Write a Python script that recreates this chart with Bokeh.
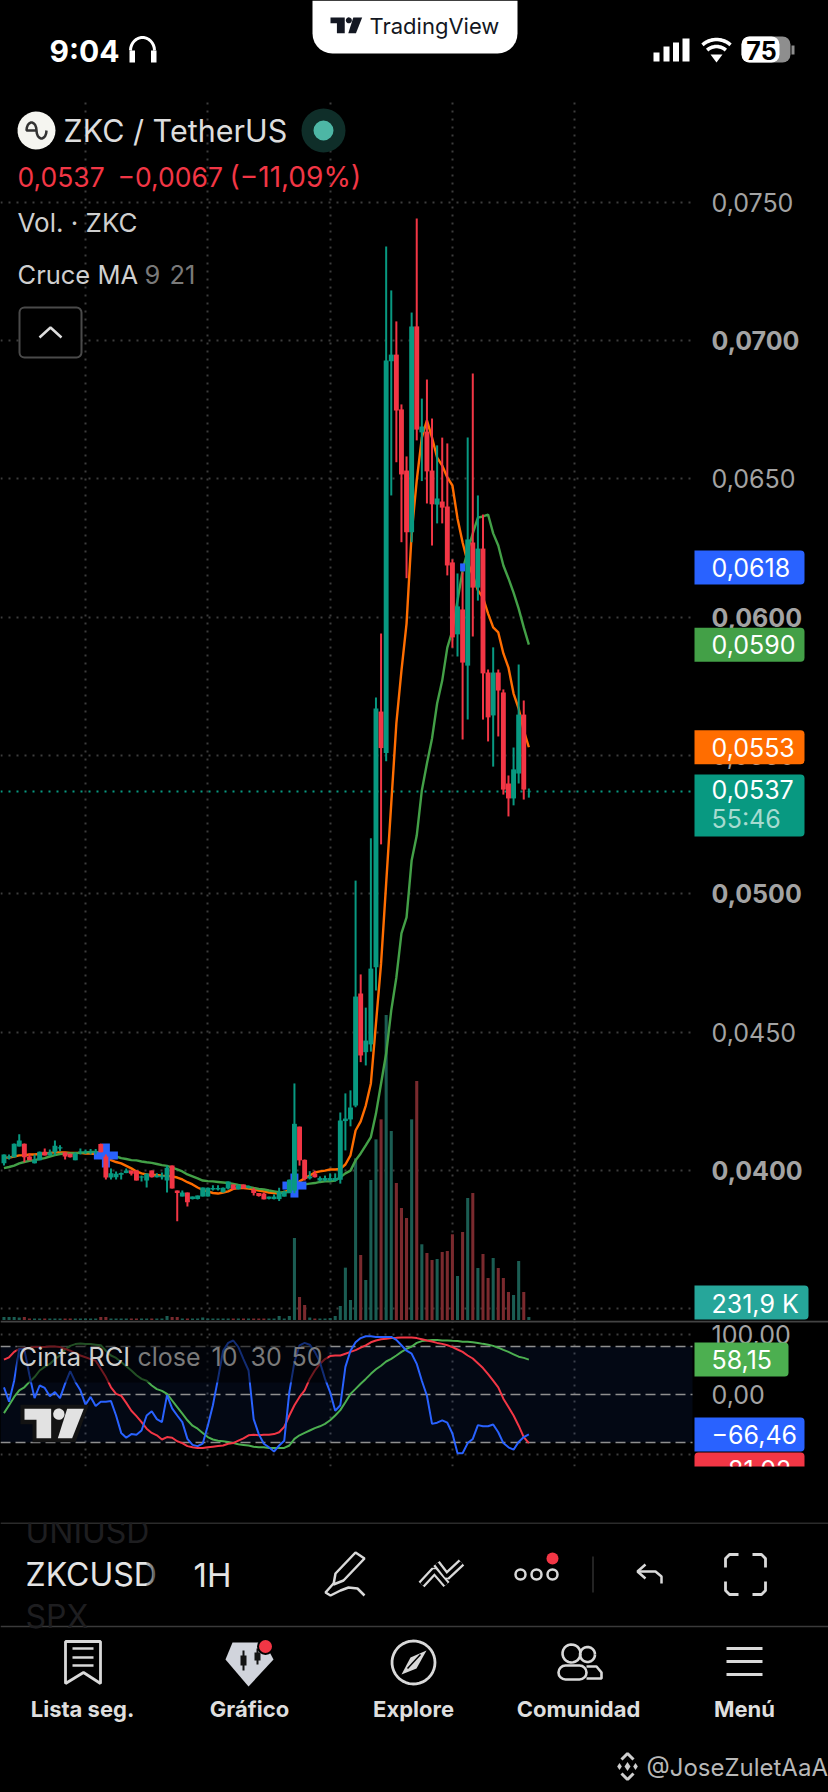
import numpy as np
from bokeh.core.properties import value
from bokeh.embed import file_html
from bokeh.layouts import column
from bokeh.models import (ColumnDataSource, CustomJSTickFormatter, FixedTicker, GlobalInlineStyleSheet,
                          Grid, LinearAxis, Range1d)
from bokeh.plotting import figure
from bokeh.resources import INLINE

# ---------- data (prices in units of 0.00001) ----------
hours = list(range(-16, 88))
opens = [4027,4045,4048,4087,4097,4051,4027,4037,4068,4055,4066,4080,4066,4061,4037,4066,
         4066,4066,4066,4096,4051,3975,3976,3985,3991,4000,4000,3975,3964,4000,3976,3976,3964,4018,3928,3906,3921,3897,3897,3906,3906,3932,3932,3922,3935,3950,3933,3950,3938,3931,3919,3917,3898,3897,3897,3906,3919,3928,4159,4039,3972,3989,3964,3964,3964,3964,
         3967,4179,4185,4235,4640,4428,4456,4735,5659,5509,6925,6949,6751,6530,6307,7051,6668,6671,6530,6407,6418,6400,6198,5938,6028,5825,6270,6107,6248,5800,5645,5800,5728,5399,5345,5435,5648,5370]
closes = [4058,4051,4097,4109,4048,4037,4037,4068,4055,4066,4090,4084,4051,4048,4061,4069,
          4069,4069,4069,4066,3975,3990,3989,3991,4000,3989,3964,3979,3989,3976,3982,3982,4010,3935,3919,3921,3886,3906,3910,3939,3938,3937,3937,3938,3961,3933,3946,3936,3943,3919,3908,3896,3906,3906,3922,3922,3967,4169,4037,3970,3979,3976,3973,3973,3973,3973,
          4181,4188,4228,4629,4416,4470,4730,5670,5527,6928,6949,6747,6516,6307,7051,6678,6689,6527,6408,6429,6396,6187,5927,6039,5836,6281,6107,6248,5797,5638,5800,5735,5377,5345,5450,5648,5377,5371]
highs = [4058,4058,4098,4131,4098,4062,4058,4069,4080,4076,4109,4092,4066,4062,4066,4080,
         4076,4078,4078,4098,4058,4008,3997,3993,4008,4000,4000,3982,3990,4000,3990,3993,4018,4018,3928,3928,3921,3906,3910,3939,3939,3947,3947,3939,3961,3950,3950,3950,3946,3938,3919,3921,3906,3914,3938,3928,3968,4315,4159,4040,3998,4000,3979,3982,3990,3990,
         4210,4279,4290,5048,4709,4589,5201,5710,5941,7340,7181,7069,6769,6581,7101,7441,6790,6859,6718,6621,6649,6628,6209,6158,6162,6649,6881,6440,6371,5811,5891,5811,5739,5428,5529,5829,5699,5381]
lows = [4018,4040,4047,4087,4030,4037,4026,4037,4055,4055,4055,4070,4040,4047,4037,4058,
        4060,4058,4058,4066,3968,3968,3968,3968,3990,3982,3964,3961,3939,3975,3975,3968,3921,3935,3817,3906,3870,3896,3896,3906,3906,3928,3928,3921,3932,3932,3932,3935,3935,3910,3906,3896,3896,3896,3890,3906,3918,3918,4018,3964,3968,3975,3961,3961,3961,3961,
        3953,4073,4160,4229,4392,4380,4430,4651,5179,5479,6440,6560,6271,6141,6271,6639,6492,6411,6259,6339,6339,6151,5890,5858,5558,5630,5930,6060,5630,5551,5460,5569,5359,5280,5320,5399,5341,5348]
ma9 = [4047,4047,4051,4055,4056,4058,4058,4060,4062,4064,4066,4066,4066,4064,4064,4064,
       4062,4062,4060,4058,4047,4038,4031,4026,4017,4008,3997,3990,3986,3984,3984,3982,3981,3979,3975,3968,3958,3950,3939,3930,3925,3919,3917,3921,3925,3934,3937,3937,3935,3932,3928,3925,3921,3919,3917,3923,3928,3946,3961,3972,3982,3993,3997,4000,4004,4004,
       4006,4022,4055,4145,4178,4235,4315,4532,4748,5038,5327,5616,5807,5977,6302,6494,6649,6711,6649,6577,6548,6505,6476,6357,6270,6198,6151,6097,6071,6013,5963,5945,5869,5818,5724,5670,5591,5530]
ma21 = [4009,4013,4018,4026,4031,4035,4038,4042,4045,4051,4056,4060,4062,4062,4063,4064,
        4066,4067,4067,4066,4062,4056,4051,4045,4042,4038,4037,4033,4030,4028,4024,4020,4017,4011,4004,3997,3986,3979,3972,3964,3962,3961,3959,3957,3955,3952,3948,3945,3941,3937,3934,3932,3928,3925,3922,3921,3923,3939,3946,3950,3953,3955,3959,3961,3961,3964,
        3976,3990,4000,4037,4062,4091,4121,4206,4315,4423,4579,4698,4857,4915,5121,5211,5374,5471,5562,5688,5771,5890,5952,6060,6169,6241,6303,6360,6364,6371,6303,6259,6187,6140,6089,6031,5963,5901]
volume_k = [230,230,230,190,230,115,115,115,115,115,115,115,115,115,115,115,
            115,115,115,230,230,115,115,115,115,115,115,115,115,115,115,115,310,230,230,115,115,115,115,190,115,115,115,115,115,115,115,115,115,115,115,115,115,115,310,115,310,6314,1771,1155,190,115,115,115,150,308,
            1078,4030,1540,12450,5005,3080,10780,13910,15450,23485,14553,10549,8624,7854,15450,18403,5830,5159,4620,4697,5236,5313,6600,3388,6776,9394,9779,4004,5082,3234,4774,4004,3234,2156,1925,4543,2156,232]
rci10 = [12,-12,23,76,75,32,-6,15,11,-3,4,-6,18,39,21,7,
         -17,-4,-19,-12,-12,-11,-35,-64,-72,-66,-67,-60,-35,-28,-41,-46,-1,-23,-35,-46,-74,-84,-86,-82,-52,-18,26,73,86,90,79,59,40,-41,-66,-82,-88,-95,-85,-77,4,54,82,86,83,71,54,26,4,-27,
         -18,46,73,87,94,97,97,96,96,96,96,91,82,73,68,51,23,-2,-49,-47,-43,-47,-65,-98,-98,-81,-74,-51,-53,-53,-50,-63,-81,-88,-92,-79,-71,-66.46]
rci30 = [58,62,71,76,77,78,79,79,79,80,80,79,76,73,69,65,
         62,59,56,43,29,12,1,-2,-14,-27,-36,-46,-57,-64,-68,-75,-71,-72,-78,-81,-86,-88,-89,-89,-88,-87,-86,-85,-82,-81,-77,-73,-68,-67,-68,-67,-67,-66,-63,-54,-35,-18,-4,7,26,40,51,59,64,65,
         65,68,71,74,78,82,87,90,92,93,94,94.4,95,95,95,94,92,90,88.3,86,84.4,82,79,75,71,65,60,52,44,34,23,12,-7,-21,-35,-52,-71,-81.02]
rci50 = [-31,-18,-4,7,12,21,29,40,46,51,59,65,75,81,84,85,
         84,84,83,82,73,65,61,54,47,40,32,26,23,15,9,6,1,-10,-21,-32,-43,-52,-57,-64,-71,-75,-77,-78,-79,-81,-83,-84,-85,-87,-88,-88,-89,-89,-89,-89,-85,-74,-68,-64,-60,-56,-53,-49,-43,-35,
         -26,-13,1,9.4,18,26,34.4,42,48,55,59.4,65,71,76,80,86,89,90,91,91,90,90,89.4,89,88,88,87,86,84.4,83,81,78,74.4,71,67,63,61,58.15]
cross_hours = [4, 41]
cross_prices = [0.04055, 0.03946]
signal_hours = [74]
signal_prices = [0.0618]
price_ticks_bold = [0.04, 0.05, 0.06, 0.07]
price_ticks_plain = [0.045, 0.055, 0.065, 0.075]
price_grid = [0.035, 0.04, 0.045, 0.05, 0.055, 0.06, 0.065, 0.07, 0.075]
day_ticks = [0, 24, 48, 72]
day_labels = ["28", "29", "30", "31"]
month_tick = [96]
month_label = ["Sep"]
rci_ticks = [100, 0]
rci_levels = [80, 0, -80]
price_tags = [(0.0618, "0,0618", "#2962FF"), (0.0590, "0,0590", "#43A047"), (0.0553, "0,0553", "#FF6D00")]
last_price = 0.0537
last_volume_label = "231,9 K"
rci_tags = [(58.15, "58,15", "#4CAF50", 788), (-66.46, "−66,46", "#2962FF", 804)]
nav_labels = ["Lista seg.", "Gráfico", "Explore", "Comunidad", "Menú"]

# ---------- geometry ----------
PX_PER_HOUR = 5.096
PX_PER_PRICE = 27670.0
PX_PER_RCI = 0.6
FONT = "Inter"
AXIS_PX = 25
UP, DOWN = "#089981", "#F23645"
BG = "#000000"

def x_at(px):
    return (px - 85) / PX_PER_HOUR

def price_at(py):
    return 0.07 - (py - 340) / PX_PER_PRICE

def rci_at(py):
    return (1394 - py) / PX_PER_RCI

def vol_at(py):
    return (1319.5 - py) * 77.0

def pts(a, k=1e-5):
    return [v * k for v in a]

def base(h, xr, yr, **kw):
    f = figure(width=828, height=h, x_range=xr, y_range=yr, toolbar_location=None, output_backend="svg",
               x_axis_location=None, y_axis_location=None, background_fill_color=BG, border_fill_color=BG,
               min_border=0, outline_line_color=None, **kw)
    f.grid.visible = False
    return f

def T(f, x, y, s, size, color, bold=False, align="left", **kw):
    f.text(x=[x], y=[y], text=[s], text_font=value(FONT), text_font_size=f"{size}px", text_color=color,
           text_align=align, text_baseline="middle", text_font_style="bold" if bold else "normal", **kw)

def arc(cx, cy, rx, ry, a0, a1, n=16):
    t = np.radians(np.linspace(a0, a1, n))
    return list(cx + rx * np.cos(t)), list(cy - ry * np.sin(t))

def tv_logo(f, X, Y, color, **kw):
    f.patch(X([72, 152, 152, 108, 108, 72]), Y([250, 250, 338, 338, 283, 283]), fill_color=color, line_color=None, **kw)
    f.patch(X([200, 250, 215, 172]), Y([250, 250, 338, 338]), fill_color=color, line_color=None, **kw)
    a, b = arc(175, 266, 17, 17, 0, 360, 24)
    f.patch(X(a), Y(b), fill_color=color, line_color=None, **kw)

def dotted_grid(f, dim, ticks):
    f.add_layout(Grid(dimension=dim, ticker=FixedTicker(ticks=ticks), grid_line_color="#3d3d3d",
                      grid_line_width=2, grid_line_dash="2 6", level="underlay"))

def value_axis(f, ticks, bold, digits, loc):
    ax = LinearAxis(ticker=FixedTicker(ticks=ticks), fixed_location=loc,
                    formatter=CustomJSTickFormatter(code=f"return tick.toFixed({digits}).replace('.', ',')"),
                    axis_line_color=None, major_tick_line_color=None, minor_tick_line_color=None,
                    major_tick_in=0, major_tick_out=0, major_label_standoff=0,
                    major_label_text_font=FONT, major_label_text_font_size=f"{AXIS_PX}px",
                    major_label_text_color="#a3a3a3", major_label_text_font_style="bold" if bold else "normal")
    f.add_layout(ax, "right")

PXR = dict(x_range_name="px", y_range_name="py")
shared_x = Range1d(x_at(0), x_at(828))

# ---------- header ----------
head = base(96, Range1d(0, 828), Range1d(96, 0))
lx, ly = arc(332, 33, 20, 20, 180, 270, 8)
rx_, ry_ = arc(497, 33, 20, 20, 270, 360, 8)
head.patch([312] + lx + rx_ + [517], [0] + ly + ry_ + [0], fill_color="#ffffff", line_color=None)
tv_logo(head, lambda a: [330 + (v - 72) * 0.178 for v in a], lambda a: [17 + (v - 250) * 0.178 for v in a], "#131722")
T(head, 369, 25, "TradingView", 22, "#131722")
T(head, 49, 50, "9:04", 30, "#ffffff", bold=True)
hx, hy = arc(142, 50, 12, 13, 180, 0)
head.line(hx, hy, line_color="#ffffff", line_width=3)
head.quad(left=[129, 150.5], right=[134.5, 156], top=[50, 50], bottom=[62, 62], fill_color="#ffffff", line_color=None)
head.quad(left=[653, 663, 672.5, 682], right=[659, 669, 678.5, 689], top=[52, 46, 42, 38], bottom=[61, 61, 61, 61],
          fill_color="#ffffff", line_color=None)
for r in (21, 14):
    ax_, ay_ = arc(716, 60, r, r, 48, 132)
    head.line(ax_, ay_, line_color="#ffffff", line_width=3.6)
head.patch([716, 710, 722], [62, 54, 54], fill_color="#ffffff", line_color=None)
head.quad(left=[741], right=[790], top=[36], bottom=[62], fill_color="#8e8e8e", line_color=None, border_radius=8)
head.quad(left=[741], right=[779], top=[36], bottom=[62], fill_color="#ffffff", line_color=None, border_radius=8)
head.quad(left=[791], right=[794], top=[45], bottom=[54], fill_color="#8e8e8e", line_color=None)
T(head, 761, 50, "75", 25, "#000000", bold=True, align="center")

# ---------- main price pane ----------
main = base(1224, shared_x, Range1d(price_at(1320), price_at(96)))
main.extra_x_ranges["px"] = Range1d(0, 828)
main.extra_y_ranges["py"] = Range1d(1320, 96)
main.extra_y_ranges["vol"] = Range1d(vol_at(1320), vol_at(96))
dotted_grid(main, 1, price_grid)
dotted_grid(main, 0, day_ticks + month_tick)
main.segment(x0=[0], x1=[692], y0=[last_price], y1=[last_price], x_range_name="px", line_color=UP, line_width=2, line_dash="2 6")
main.quad(left=[693], right=[828], bottom=[1320], top=[96], fill_color=BG, line_color=None, **PXR)

colors = [UP if c >= o else DOWN for o, c in zip(opens, closes)]
vol_colors = ["#1B5D53" if c == UP else "#7A2A2E" for c in colors]
main.vbar(x=hours, top=volume_k, bottom=0, width=0.6, fill_color=vol_colors, line_color=None, y_range_name="vol")
main.line(hours, pts(ma9), line_color="#FF6D00", line_width=2.4)
main.line(hours, pts(ma21), line_color="#43A047", line_width=2.4)
for w, h_ in ((24, 8), (8, 24)):
    main.rect(x=cross_hours, y=cross_prices, width=w, height=h_, width_units="screen", height_units="screen",
              fill_color="#2962FF", line_color=None)
main.rect(x=signal_hours, y=signal_prices, width=5, height=8, width_units="screen", height_units="screen",
          fill_color="#2962FF", line_color=None)
candles = ColumnDataSource(dict(h=hours, o=pts(opens), c=pts(closes), hi=pts(highs), lo=pts(lows), col=colors,
                                top=pts([max(a, b) for a, b in zip(opens, closes)]),
                                bot=pts([min(a, b) for a, b in zip(opens, closes)])))
main.segment(x0="h", x1="h", y0="lo", y1="hi", line_color="col", line_width=2, source=candles)
main.vbar(x="h", top="top", bottom="bot", width=0.96, fill_color="col", line_color=None, source=candles)

value_axis(main, price_ticks_plain, False, 4, x_at(711))
value_axis(main, price_ticks_bold, True, 4, x_at(711))

half = 17 / PX_PER_PRICE
for val, lab, col in price_tags:
    main.quad(left=[694], right=[804], bottom=[val - half], top=[val + half], x_range_name="px", fill_color=col,
              line_color=None, border_radius=(0, 4, 4, 0), level="overlay")
    T(main, 711, val, lab, AXIS_PX, "#ffffff", x_range_name="px", level="overlay")
main.quad(left=[694], right=[804], bottom=[836], top=[774], fill_color=UP, line_color=None,
          border_radius=(0, 4, 4, 0), level="overlay", **PXR)
T(main, 711, 789, "0,0537", AXIS_PX, "#ffffff", level="overlay", **PXR)
T(main, 711, 818, "55:46", AXIS_PX, "#A6DBD0", level="overlay", **PXR)
main.quad(left=[694], right=[808], bottom=[1319], top=[1285], fill_color="#26A69A", line_color=None,
          border_radius=(0, 4, 4, 0), level="overlay", **PXR)
T(main, 711, 1303, last_volume_label, AXIS_PX, "#ffffff", level="overlay", **PXR)

cx, cy = arc(36, 130, 19, 19, 0, 360, 32)
main.patch(cx, cy, fill_color="#F5F5F0", line_color=None, **PXR)
sq_x, sq_y = arc(31, 130, 5, 8, 0, 180, 10)
sq2_x, sq2_y = arc(41, 130, 5, 8, 180, 360, 10)
main.line(sq_x + sq2_x, sq_y + sq2_y, line_color="#333333", line_width=2.5, **PXR)
T(main, 63, 130, "ZKC / TetherUS", 30.5, "#dddddd", **PXR)
main.scatter([323], [130], size=44, marker="circle", fill_color="#0F2E29", line_color=None, **PXR)
main.scatter([323], [130], size=20, marker="circle", fill_color="#4DB6A5", line_color=None, **PXR)
T(main, 17, 176, "0,0537", 26.5, DOWN, **PXR)
T(main, 117, 176, "−0,0067", 26.5, DOWN, **PXR)
T(main, 229, 176, "(−11,09%)", 28, DOWN, **PXR)
T(main, 17, 222, "Vol. · ZKC", 26, "#cfcfcf", **PXR)
T(main, 17, 274, "Cruce MA", 25.5, "#cfcfcf", **PXR)
T(main, 144, 274, "9", 25.5, "#7a7a7a", **PXR)
T(main, 169, 274, "21", 25.5, "#7a7a7a", **PXR)
main.quad(left=[19], right=[81], bottom=[357], top=[307], fill_color=BG, line_color="#4a4a4a", line_width=2,
          border_radius=5, **PXR)
main.line([39, 50, 61], [337, 327, 337], line_color="#dddddd", line_width=2.5, **PXR)

# ---------- RCI pane ----------
rci = base(202, shared_x, Range1d(rci_at(1466), rci_at(1320)))
rci.min_border_bottom = 56
rci.extra_x_ranges["px"] = Range1d(0, 828)
rci.extra_y_ranges["py"] = Range1d(1466, 1320)
dotted_grid(rci, 1, [100, -100])
dotted_grid(rci, 0, day_ticks + month_tick)
rci.quad(left=[0], right=[692], bottom=[-80], top=[80], x_range_name="px", fill_color="#2962FF", fill_alpha=0.08, line_color=None)
rci.quad(left=[693], right=[828], bottom=[1466], top=[1320], fill_color=BG, line_color=None, **PXR)
for lvl in rci_levels:
    rci.segment(x0=[0], x1=[692], y0=[lvl], y1=[lvl], x_range_name="px", line_color="#8f8f8f", line_width=1.6, line_dash="10 5")
rci.line(hours, rci50, line_color="#4CAF50", line_width=2)
rci.line(hours, rci30, line_color="#F23645", line_width=2)
rci.line(hours, rci10, line_color="#2962FF", line_width=2)
rci.quad(left=[16], right=[327], bottom=[1382], top=[1338], fill_color=BG, fill_alpha=0.55, line_color=None, **PXR)
T(rci, 18, 1356, "Cinta RCI", 25.5, "#cfcfcf", **PXR)
T(rci, 137, 1356, "close", 25, "#7a7a7a", **PXR)
T(rci, 211, 1356, "10", 25, "#7a7a7a", **PXR)
T(rci, 250, 1356, "30", 25, "#7a7a7a", **PXR)
T(rci, 291, 1356, "50", 25, "#7a7a7a", **PXR)
LX = lambda a: [v / 3 for v in a]
LY = lambda a: [1325 + v / 3 for v in a]
rci.patch(LX([60, 265, 225, 96, 96, 60]), LY([238, 238, 350, 350, 296, 296]), fill_color="#131313", line_color=None, **PXR)
tv_logo(rci, LX, LY, "#e2e2e2", **PXR)
rci.segment(x0=[0], x1=[828], y0=[1321], y1=[1321], line_color="#434343", line_width=2, **PXR)

value_axis(rci, rci_ticks, False, 2, x_at(711))
half_r = 17 / PX_PER_RCI
for val, lab, col, right in rci_tags:
    rci.quad(left=[694], right=[right], bottom=[val - half_r], top=[val + half_r], x_range_name="px", fill_color=col,
             line_color=None, border_radius=(0, 4, 4, 0), level="overlay")
    T(rci, 711, val, lab, AXIS_PX, "#ffffff", x_range_name="px", level="overlay")
# the last tag runs past the bottom of the pane, as in the reference: it stays clipped to the frame
rci.quad(left=[694], right=[804], bottom=[rci_at(1486)], top=[rci_at(1452)], x_range_name="px", fill_color="#F23645",
         line_color=None, border_radius=(4, 4, 0, 0))
T(rci, 711, rci_at(1469), "−81,02", AXIS_PX, "#ffffff", x_range_name="px")

def time_axis(ticks, labels, bold):
    ax = LinearAxis(ticker=FixedTicker(ticks=ticks), fixed_location=rci_at(1466),
                    major_label_overrides=dict(zip(ticks, labels)),
                    axis_line_color=None, major_tick_line_color=None, minor_tick_line_color=None,
                    major_tick_in=0, major_tick_out=0, major_label_standoff=16,
                    major_label_text_font=FONT, major_label_text_font_size="23px",
                    major_label_text_color="#a3a3a3", major_label_text_font_style="bold" if bold else "normal")
    rci.add_layout(ax, "below")

time_axis(day_ticks, day_labels, False)
time_axis(month_tick, month_label, True)

# ---------- footer ----------
foot = base(270, Range1d(0, 828), Range1d(1792, 1522))
LINE = "#d9d9d9"
foot.segment(x0=[0, 0], x1=[828, 828], y0=[1522.5, 1626], y1=[1522.5, 1626], line_color="#3a3a3a", line_width=1.4)
T(foot, 25, 1531, "UNIUSD", 32, "#1e1e20")
T(foot, 25, 1616, "SPX", 32, "#1e1e20")
T(foot, 25, 1574, "ZKCUSD", 32, "#e4e4e4")
for i, a in enumerate((0.25, 0.4, 0.55, 0.7)):
    foot.quad(left=[146 + 3 * i], right=[149 + 3 * i], top=[1550], bottom=[1600], fill_color=BG, fill_alpha=a, line_color=None)
T(foot, 193, 1574, "1H", 33, "#e4e4e4")
foot.patch([355, 364, 343, 333, 335], [1552, 1558, 1580, 1584, 1573], fill_color=BG, line_color=LINE, line_width=2.5)
foot.line([333, 325, 330, 340, 348, 357, 364], [1583, 1592, 1595, 1590, 1587, 1588, 1595], line_color=LINE, line_width=2.5)
foot.line([421, 434, 446], [1584, 1570, 1584], line_color=LINE, line_width=8)
foot.line([436, 446, 461], [1563, 1576, 1562], line_color=LINE, line_width=8)
foot.line([421, 434, 446], [1584, 1570, 1584], line_color=BG, line_width=3.5)
foot.line([436, 446, 461], [1563, 1576, 1562], line_color=BG, line_width=3.5)
foot.scatter([520, 536, 552], [1574, 1574, 1574], size=10, marker="circle", fill_color=BG, line_color=LINE, line_width=2.5)
foot.scatter([552], [1558], size=12, marker="circle", fill_color=DOWN, line_color=None)
foot.segment(x0=[592.5], x1=[592.5], y0=[1556], y1=[1592], line_color="#333333", line_width=1.4)
foot.line([661, 661, 655, 638], [1583, 1576, 1571, 1571], line_color=LINE, line_width=2.5)
foot.line([645, 637, 645], [1564, 1571, 1578], line_color=LINE, line_width=2.5)
for sx, sy in ((725, 1554), (765, 1554), (725, 1594), (765, 1594)):
    dx = 1 if sx == 725 else -1
    dy = 1 if sy == 1554 else -1
    foot.line([sx, sx, sx + 4 * dx, sx + 13 * dx], [sy + 13 * dy, sy + 4 * dy, sy, sy], line_color=LINE, line_width=2.8)

for cx_, lab in zip((82, 249, 413, 578, 744), nav_labels):
    T(foot, cx_, 1708, lab, 22, "#dedede", bold=True, align="center")
foot.patch([65, 100, 100, 83, 65], [1641, 1641, 1683, 1672, 1683], fill_color=BG, line_color=LINE, line_width=2.8)
foot.segment(x0=[72, 72, 72], x1=[93, 93, 93], y0=[1648, 1657, 1665], y1=[1648, 1657, 1665], line_color=LINE, line_width=2.6)
foot.patch([232, 264, 273, 248, 225], [1642, 1642, 1659, 1686, 1659], fill_color="#D1D4DC", line_color=None)
foot.segment(x0=[243, 257], x1=[243, 257], y0=[1650, 1648], y1=[1670, 1664], line_color="#131313", line_width=2)
foot.quad(left=[240, 254], right=[246, 260], top=[1655, 1652], bottom=[1665, 1660], fill_color="#131313", line_color=None)
foot.scatter([265], [1646], size=15, marker="circle", fill_color=DOWN, line_color=BG, line_width=2)
ca, cb = arc(413, 1662, 21.5, 21.5, 0, 360, 40)
foot.line(ca, cb, line_color=LINE, line_width=2.8)
foot.patch([426, 416, 401, 410], [1650, 1668, 1674, 1657], fill_color=LINE, line_color=None)
foot.line([407, 420], [1668, 1654], line_color=BG, line_width=1.5)
for ccx, ccy, r in ((571, 1653, 9), (587, 1654, 7.5)):
    a, b = arc(ccx, ccy, r, r, 0, 360, 24)
    foot.line(a, b, line_color=LINE, line_width=2.6)
foot.quad(left=[558], right=[586], top=[1665], bottom=[1679], fill_color=BG, line_color=LINE, line_width=2.6, border_radius=7)
foot.line([586, 596, 601, 601, 586], [1666, 1666, 1672, 1678, 1678], line_color=LINE, line_width=2.6)
foot.segment(x0=[726, 726, 726], x1=[762, 762, 762], y0=[1648, 1661, 1674], y1=[1648, 1661, 1674], line_color=LINE, line_width=3)
foot.scatter([627, 619, 635], [1766, 1766, 1766], size=[9, 7, 7], marker="diamond", fill_color="#cfcfcf", line_color=None)
foot.line([621, 627, 633], [1759, 1753, 1759], line_color="#cfcfcf", line_width=3)
foot.line([621, 627, 633], [1773, 1779, 1773], line_color="#cfcfcf", line_width=3)
T(foot, 646, 1767, "@JoseZuletAaA", 24, "#b8b8b8")

page = column(head, main, rci, foot, spacing=0)
page.stylesheets = [GlobalInlineStyleSheet(css="html, body { background: #000; }")]
open("out.html", "w").write(file_html(page, INLINE))
